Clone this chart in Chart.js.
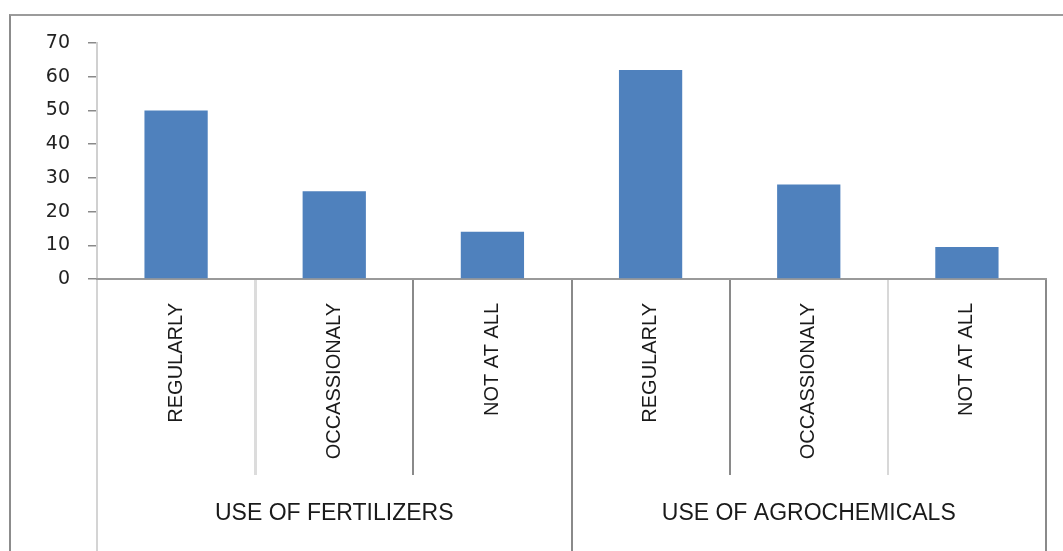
<!DOCTYPE html>
<html>
<head>
<meta charset="utf-8">
<script src="https://cdn.jsdelivr.net/npm/chart.js@4/dist/chart.umd.min.js"></script>
<style>
  html, body { margin: 0; padding: 0; background: #ffffff; }
  #wrap { position: relative; width: 1063px; height: 551px; overflow: hidden; background: #ffffff; }
  #frame { position: absolute; left: 9px; top: 14px; width: 1100px; height: 600px;
           border-top: 2px solid #9b9b9b; border-left: 2px solid #8c8c8c; box-sizing: border-box; }
  canvas { position: absolute; left: 0; top: 0; }
</style>
</head>
<body>
<div id="wrap">
  <div id="frame"></div>
  <canvas id="c" width="1063" height="551"></canvas>
</div>
<script>
// ---- data ----
const categories = ['REGULARLY', 'OCCASSIONALY', 'NOT AT ALL', 'REGULARLY', 'OCCASSIONALY', 'NOT AT ALL'];
const groups = ['USE OF FERTILIZERS', 'USE OF AGROCHEMICALS'];
const values = [50, 26, 14, 62, 28, 9.5];
const yTicks = [0, 10, 20, 30, 40, 50, 60, 70];

// ---- styling helpers ----
const xLineColors = ['#d4d4d4', '#dcdcdc', '#8a8a8a', '#8a8a8a', '#8a8a8a', '#d8d8d8', '#8a8a8a'];
const xLineWidths = [2, 3, 2, 2, 2, 2, 2];
const x2LineColors = ['#d4d4d4', '#8a8a8a', '#8a8a8a'];
const pick = (arr) => (c) => arr[(c.index === undefined || c.index >= arr.length) ? arr.length - 1 : c.index];

// ---- chart ----
const ctx = document.getElementById('c').getContext('2d');
new Chart(ctx, {
  type: 'bar',
  data: {
    labels: categories,
    datasets: [{
      data: values,
      xAxisID: 'x',
      yAxisID: 'y',
      backgroundColor: '#4f81bd',
      borderWidth: 0,
      categoryPercentage: 1.0,
      barPercentage: 0.4
    }]
  },
  options: {
    responsive: false,
    devicePixelRatio: 1,
    animation: false,
    layout: { padding: { left: 0, top: 43, right: 17, bottom: 0 } },
    plugins: { legend: { display: false }, tooltip: { enabled: false }, title: { display: false } },
    scales: {
      y: {
        position: 'left',
        min: yTicks[0],
        max: yTicks[yTicks.length - 1],
        afterBuildTicks: (s) => { s.ticks = yTicks.map(v => ({ value: v })); },
        afterFit: (s) => { s.width = 97; },
        border: { display: true, color: '#d0d0d0', width: 2 },
        grid: { drawOnChartArea: false, drawTicks: true, tickLength: 9, color: '#8a8a8a', lineWidth: 1.5 },
        ticks: { padding: 18, color: '#222222', font: { family: 'DejaVu Sans', size: 19 } }
      },
      x: {
        type: 'category',
        position: 'bottom',
        weight: 0,
        offset: true,
        afterFit: (s) => { s.height = 196; },
        border: { display: true, color: '#9a9a9a', width: 2 },
        grid: {
          offset: true,
          drawOnChartArea: false,
          drawTicks: true,
          tickLength: 196,
          color: pick(xLineColors),
          lineWidth: pick(xLineWidths)
        },
        ticks: {
          autoSkip: false,
          minRotation: 90,
          maxRotation: 90,
          padding: -172,
          color: '#1a1a1a',
          font: { family: 'Liberation Sans', size: 20 }
        }
      },
      x2: {
        type: 'category',
        position: 'bottom',
        axis: 'x',
        weight: 1,
        labels: groups,
        offset: true,
        afterFit: (s) => { s.height = 76; },
        border: { display: false },
        grid: {
          offset: true,
          drawOnChartArea: false,
          drawTicks: true,
          tickLength: 76,
          color: pick(x2LineColors),
          lineWidth: 2
        },
        ticks: {
          autoSkip: false,
          minRotation: 0,
          maxRotation: 0,
          padding: -51,
          color: '#1a1a1a',
          font: { family: 'Liberation Sans', size: 23 }
        }
      }
    }
  }
});
</script>
</body>
</html>
